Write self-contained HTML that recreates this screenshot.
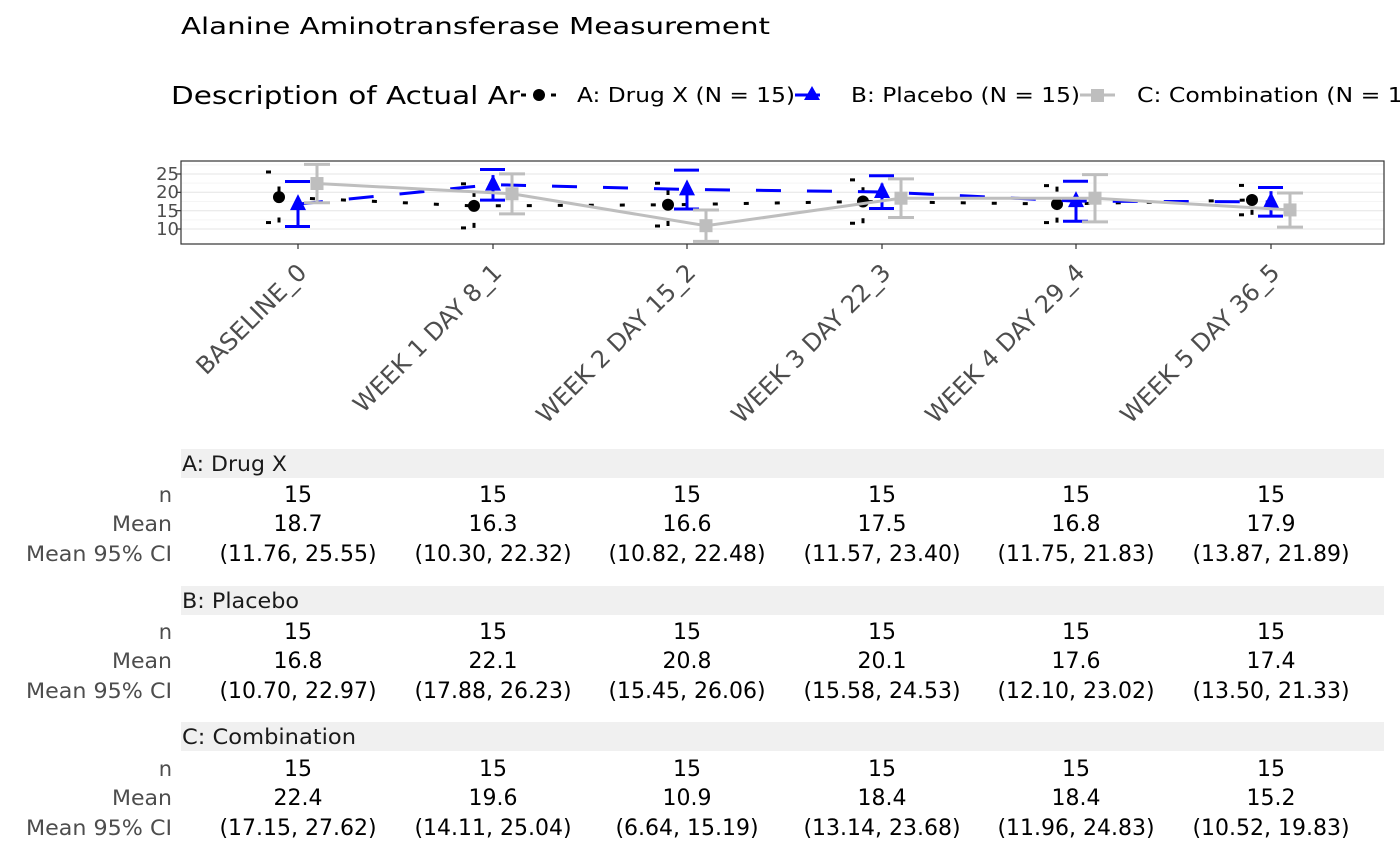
<!DOCTYPE html>
<html><head><meta charset="utf-8"><style>
html,body{margin:0;padding:0;background:#fff;}
svg{display:block;font-family:"DejaVu Sans","Liberation Sans",sans-serif;}
</style></head><body>
<svg id="s" width="1400" height="866" xmlns="http://www.w3.org/2000/svg">
<text x="181" y="34" font-size="23" fill="#000" textLength="589" lengthAdjust="spacingAndGlyphs">Alanine Aminotransferase Measurement</text>
<text x="171" y="104" font-size="25" fill="#000" textLength="349" lengthAdjust="spacingAndGlyphs">Description of Actual Ar</text>
<line x1="521" y1="95" x2="556" y2="95" stroke="#000" stroke-width="3" stroke-dasharray="5,10"/>
<circle cx="539" cy="95" r="6" fill="#000"/>
<text x="577" y="102" font-size="20" textLength="218" lengthAdjust="spacingAndGlyphs">A: Drug X (N = 15)</text>
<line x1="795" y1="95" x2="830" y2="95" stroke="#00f" stroke-width="3" stroke-dasharray="25,26"/>
<polygon points="812,86 820,100 804,100" fill="#00f"/>
<text x="851" y="102" font-size="20" textLength="229" lengthAdjust="spacingAndGlyphs">B: Placebo (N = 15)</text>
<line x1="1080" y1="95" x2="1115" y2="95" stroke="#bebebe" stroke-width="3"/>
<rect x="1091" y="89" width="13" height="13" fill="#bebebe"/>
<text x="1137" y="102" font-size="20" textLength="290" lengthAdjust="spacingAndGlyphs">C: Combination (N = 15)</text>

<rect x="181" y="161" width="1203" height="83" fill="#fff"/>
<g id="grid"></g>
<g id="data"></g>
<rect x="181" y="161" width="1203" height="83" fill="none" stroke="#333" stroke-width="1.2"/>
<g font-size="18" fill="#4d4d4d" text-anchor="end">
<text x="179" y="180">25</text><text x="179" y="198">20</text><text x="179" y="217">15</text><text x="179" y="235">10</text>
</g>
<g font-size="24" fill="#4d4d4d" text-anchor="end">
<text transform="translate(308,274) rotate(-45)">BASELINE_0</text>
<text transform="translate(503,274) rotate(-45)">WEEK 1 DAY 8_1</text>
<text transform="translate(697,274) rotate(-45)">WEEK 2 DAY 15_2</text>
<text transform="translate(892,274) rotate(-45)">WEEK 3 DAY 22_3</text>
<text transform="translate(1086,274) rotate(-45)">WEEK 4 DAY 29_4</text>
<text transform="translate(1281,274) rotate(-45)">WEEK 5 DAY 36_5</text>
</g>

<rect x="181" y="449" width="1203" height="29" fill="#f0f0f0"/>
<rect x="181" y="586" width="1203" height="29" fill="#f0f0f0"/>
<rect x="181" y="722" width="1203" height="29" fill="#f0f0f0"/>
<g font-size="21" fill="#1a1a1a">
<text x="182" y="471" textLength="105" lengthAdjust="spacingAndGlyphs">A: Drug X</text>
<text x="182" y="608" textLength="117" lengthAdjust="spacingAndGlyphs">B: Placebo</text>
<text x="182" y="744" textLength="174" lengthAdjust="spacingAndGlyphs">C: Combination</text>
</g>
<g font-size="21" fill="#4d4d4d" text-anchor="end">
<text x="172" y="502">n</text><text x="172" y="531" textLength="60" lengthAdjust="spacingAndGlyphs">Mean</text><text x="172" y="561" textLength="146" lengthAdjust="spacingAndGlyphs">Mean 95% CI</text>
<text x="172" y="639">n</text><text x="172" y="668" textLength="60" lengthAdjust="spacingAndGlyphs">Mean</text><text x="172" y="698" textLength="146" lengthAdjust="spacingAndGlyphs">Mean 95% CI</text>
<text x="172" y="776">n</text><text x="172" y="805" textLength="60" lengthAdjust="spacingAndGlyphs">Mean</text><text x="172" y="835" textLength="146" lengthAdjust="spacingAndGlyphs">Mean 95% CI</text>
</g>
<g font-size="22" fill="#000" text-anchor="middle">
<text x="298" y="502">15</text><text x="493" y="502">15</text><text x="687" y="502">15</text><text x="882" y="502">15</text><text x="1076" y="502">15</text><text x="1271" y="502">15</text>
<text x="298" y="531">18.7</text><text x="493" y="531">16.3</text><text x="687" y="531">16.6</text><text x="882" y="531">17.5</text><text x="1076" y="531">16.8</text><text x="1271" y="531">17.9</text>
<text x="298" y="561">(11.76, 25.55)</text><text x="493" y="561">(10.30, 22.32)</text><text x="687" y="561">(10.82, 22.48)</text><text x="882" y="561">(11.57, 23.40)</text><text x="1076" y="561">(11.75, 21.83)</text><text x="1271" y="561">(13.87, 21.89)</text>
<text x="298" y="639">15</text><text x="493" y="639">15</text><text x="687" y="639">15</text><text x="882" y="639">15</text><text x="1076" y="639">15</text><text x="1271" y="639">15</text>
<text x="298" y="668">16.8</text><text x="493" y="668">22.1</text><text x="687" y="668">20.8</text><text x="882" y="668">20.1</text><text x="1076" y="668">17.6</text><text x="1271" y="668">17.4</text>
<text x="298" y="698">(10.70, 22.97)</text><text x="493" y="698">(17.88, 26.23)</text><text x="687" y="698">(15.45, 26.06)</text><text x="882" y="698">(15.58, 24.53)</text><text x="1076" y="698">(12.10, 23.02)</text><text x="1271" y="698">(13.50, 21.33)</text>
<text x="298" y="776">15</text><text x="493" y="776">15</text><text x="687" y="776">15</text><text x="882" y="776">15</text><text x="1076" y="776">15</text><text x="1271" y="776">15</text>
<text x="298" y="805">22.4</text><text x="493" y="805">19.6</text><text x="687" y="805">10.9</text><text x="882" y="805">18.4</text><text x="1076" y="805">18.4</text><text x="1271" y="805">15.2</text>
<text x="298" y="835">(17.15, 27.62)</text><text x="493" y="835">(14.11, 25.04)</text><text x="687" y="835">(6.64, 15.19)</text><text x="882" y="835">(13.14, 23.68)</text><text x="1076" y="835">(11.96, 24.83)</text><text x="1271" y="835">(10.52, 19.83)</text>
</g>
</svg>
<script>
(function(){
var NS="http://www.w3.org/2000/svg";
function el(p,t,a){var e=document.createElementNS(NS,t);for(var k in a)e.setAttribute(k,a[k]);p.appendChild(e);return e;}
function Y(v){return 174+(25-v)*3.667;}
var g=document.getElementById("grid"),d=document.getElementById("data");
[27.5,22.5,17.5,12.5].forEach(function(v){el(g,"line",{x1:181,x2:1384,y1:Y(v),y2:Y(v),stroke:"#f5f5f5","stroke-width":1});});
[25,20,15,10].forEach(function(v){el(g,"line",{x1:181,x2:1384,y1:Y(v),y2:Y(v),stroke:"#ebebeb","stroke-width":1.3});});
[25,20,15,10].forEach(function(v){el(g,"line",{x1:176,x2:181,y1:Y(v),y2:Y(v),stroke:"#333","stroke-width":1.2});});
var T=[298,493,687,882,1076,1271];
T.forEach(function(x){el(g,"line",{x1:x,x2:x,y1:244,y2:249,stroke:"#333","stroke-width":1.2});});
var S=[
{o:-19,c:"#000",da:"5,26",m:[18.7,16.3,16.6,17.5,16.8,17.9],lo:[11.76,10.30,10.82,11.57,11.75,13.87],hi:[25.55,22.32,22.48,23.40,21.83,21.89],sh:"c"},
{o:0,c:"#00f",da:"25,26",m:[16.8,22.1,20.8,20.1,17.6,17.4],lo:[10.70,17.88,15.45,15.58,12.10,13.50],hi:[22.97,26.23,26.06,24.53,23.02,21.33],sh:"t"},
{o:19,c:"#bebebe",da:"",m:[22.4,19.6,10.9,18.4,18.4,15.2],lo:[17.15,14.11,6.64,13.14,11.96,10.52],hi:[27.62,25.04,15.19,23.68,24.83,19.83],sh:"s"}];
S.forEach(function(s){
 var pts=s.m.map(function(v,i){return (T[i]+s.o)+","+Y(v);}).join(" ");
 var a={points:pts,fill:"none",stroke:s.c,"stroke-width":3};if(s.da)a["stroke-dasharray"]=s.da;
 el(d,"polyline",a);
 s.m.forEach(function(v,i){var x=T[i]+s.o,y1=Y(s.lo[i]),y2=Y(s.hi[i]);
  var b={stroke:s.c,"stroke-width":3};if(s.da)b["stroke-dasharray"]=s.da;
  el(d,"line",Object.assign({x1:x,x2:x,y1:y1,y2:y2},b));
  el(d,"line",Object.assign({x1:x-13,x2:x+13,y1:y1,y2:y1},b));
  el(d,"line",Object.assign({x1:x-13,x2:x+13,y1:y2,y2:y2},b));
 });
 s.m.forEach(function(v,i){var x=T[i]+s.o,y=Y(v);
  if(s.sh=="c")el(d,"circle",{cx:x,cy:y,r:6,fill:s.c});
  else if(s.sh=="t")el(d,"polygon",{points:x+","+(y-10)+" "+(x+8)+","+(y+6)+" "+(x-8)+","+(y+6),fill:s.c});
  else el(d,"rect",{x:x-6.5,y:y-6.5,width:13,height:13,fill:s.c});
 });
});
})();
</script>
</body></html>
